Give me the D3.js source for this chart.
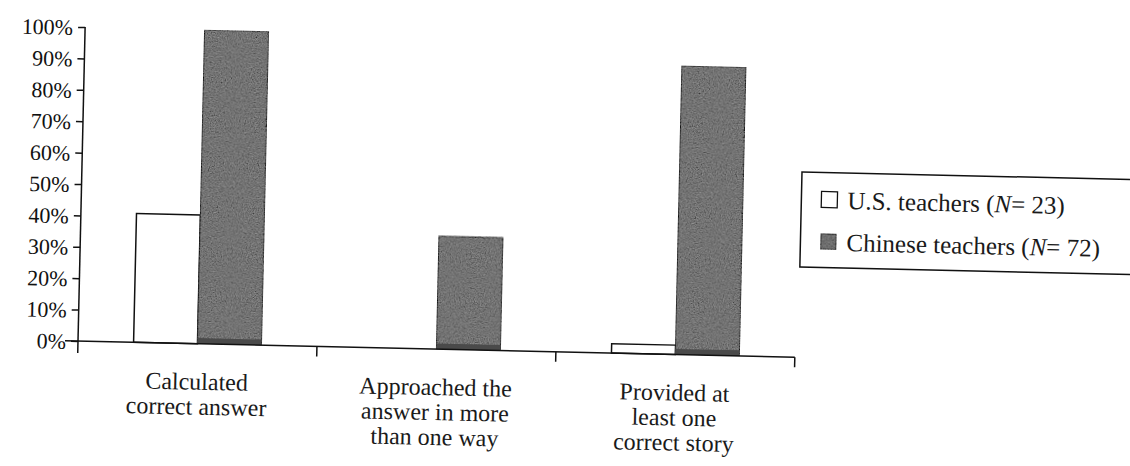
<!DOCTYPE html>
<html>
<head>
<meta charset="utf-8">
<script src="https://cdn.jsdelivr.net/npm/d3@7"></script>
<style>
  body { margin: 0; background: #fff; }
</style>
</head>
<body>
<div id="vis"></div>
<script>
// data
var categories = [
  ['Calculated', 'correct answer'],
  ['Approached the', 'answer in more', 'than one way'],
  ['Provided at', 'least one', 'correct story']
];
var groups = ['us', 'cn'];
var usValues = [41, 0, 3];
var cnValues = [100, 36, 92];
var legendLabels = ['U.S. teachers (', 'Chinese teachers ('];
var legendN = [23, 72];
var yTicks = [0, 10, 20, 30, 40, 50, 60, 70, 80, 90, 100];

var serif = 'Liberation Serif, Times New Roman, DejaVu Serif, serif';

var width = 1130, height = 466;
var margin = { top: 27, left: 78 };
var tilt = 1.3; // the scan is slightly rotated

var svg = d3.select('#vis').append('svg')
  .attr('width', width)
  .attr('height', height)
  .attr('font-family', serif);

// grainy print texture for the grey bars
var defs = svg.append('defs');
var f = defs.append('filter').attr('id', 'grain')
  .attr('x', 0).attr('y', 0).attr('width', 1).attr('height', 1);
f.append('feTurbulence').attr('type', 'fractalNoise')
  .attr('baseFrequency', 0.8).attr('numOctaves', 2).attr('seed', 4).attr('result', 'noise');
f.append('feColorMatrix').attr('in', 'noise').attr('type', 'matrix')
  .attr('values', '0.33 0.33 0.33 0 0  0.33 0.33 0.33 0 0  0.33 0.33 0.33 0 0  0 0 0 0 1')
  .attr('result', 'gray');
f.append('feComposite').attr('in', 'gray').attr('in2', 'SourceGraphic')
  .attr('operator', 'arithmetic')
  .attr('k1', 0).attr('k2', 0.55).attr('k3', 1).attr('k4', -0.27).attr('result', 'mix');
f.append('feComposite').attr('in', 'mix').attr('in2', 'SourceGraphic').attr('operator', 'in');

var innerW = 795 - margin.left;
var innerH = 341 - margin.top;

var g = svg.append('g')
  .attr('transform', 'translate(' + margin.left + ',' + margin.top + ') rotate(' + tilt + ',0,' + innerH + ')');

var x = d3.scaleBand()
  .domain(d3.range(categories.length))
  .range([0, innerW])
  .padding(0);

var x1 = d3.scaleBand()
  .domain(groups)
  .range([0, x.bandwidth()])
  .paddingOuter(0.87)
  .paddingInner(0);

var y = d3.scaleLinear()
  .domain([0, 100])
  .range([innerH, 0]);

var rows = categories.map(function (c, i) {
  return { i: i, us: usValues[i], cn: cnValues[i] };
});

// bars
var bar = g.append('g').selectAll('g')
  .data(rows)
  .enter().append('g')
  .attr('transform', function (d) { return 'translate(' + x(d.i) + ',0)'; });

bar.filter(function (d) { return d.us > 0; })
  .append('rect')
  .attr('x', x1('us'))
  .attr('y', function (d) { return y(d.us); })
  .attr('width', x1.bandwidth())
  .attr('height', function (d) { return y(0) - y(d.us); })
  .attr('fill', '#fff')
  .attr('stroke', '#111')
  .attr('stroke-width', 1.5);

bar.append('rect')
  .attr('x', x1('cn'))
  .attr('y', function (d) { return y(d.cn); })
  .attr('width', x1.bandwidth())
  .attr('height', function (d) { return y(0) - y(d.cn); })
  .attr('fill', '#727272')
  .attr('stroke', '#2a2a2a')
  .attr('stroke-width', 1)
  .attr('filter', 'url(#grain)');

// darker strip where the grey meets the baseline
bar.append('rect')
  .attr('x', x1('cn'))
  .attr('y', y(1.8))
  .attr('width', x1.bandwidth())
  .attr('height', y(0) - y(1.8))
  .attr('fill', '#4a4a4a');

// y axis
var yAxis = g.append('g')
  .call(d3.axisLeft(y).tickValues(yTicks).tickSize(7).tickPadding(5)
    .tickFormat(function (d) { return d + '%'; }));
yAxis.attr('font-family', serif).attr('font-size', 22);
yAxis.select('.domain').remove();
yAxis.append('line')
  .attr('x1', 0).attr('x2', 0)
  .attr('y1', y(100)).attr('y2', y(0) + 12)
  .attr('stroke', '#111').attr('stroke-width', 1.5);
yAxis.selectAll('.tick line').attr('stroke', '#111').attr('stroke-width', 1.5);
yAxis.selectAll('.tick text')
  .attr('fill', '#111')
  .attr('dy', '0.35em');

// x axis: baseline plus ticks at the category boundaries
var xAxis = g.append('g');
xAxis.append('line')
  .attr('x1', -13).attr('x2', innerW)
  .attr('y1', y(0)).attr('y2', y(0))
  .attr('stroke', '#111').attr('stroke-width', 1.5);
var edges = x.domain().map(function (d) { return x(d); }).concat([innerW]).slice(1);
xAxis.selectAll('.xt')
  .data(edges)
  .enter().append('line')
  .attr('class', 'xt')
  .attr('x1', function (d) { return d; }).attr('x2', function (d) { return d; })
  .attr('y1', y(0)).attr('y2', y(0) + 10)
  .attr('stroke', '#111').attr('stroke-width', 1.5);

// category labels
var lab = g.append('g').selectAll('text')
  .data(categories)
  .enter().append('text')
  .attr('text-anchor', 'middle')
  .attr('fill', '#1a1a1a')
  .attr('font-family', serif)
  .attr('font-size', 24)
  .attr('transform', function (d, i) {
    return 'translate(' + (x(i) + x.bandwidth() / 2) + ',' + (y(0) + 46) + ')';
  });
lab.selectAll('tspan')
  .data(function (d) { return d; })
  .enter().append('tspan')
  .attr('x', 0)
  .attr('y', function (d, i) { return i * 25; })
  .text(function (d) { return d; });

// legend
var lg = svg.append('g')
  .attr('transform', 'translate(802,172) rotate(' + tilt + ')');
lg.append('rect')
  .attr('x', 0).attr('y', 0)
  .attr('width', 360).attr('height', 95)
  .attr('fill', '#fff')
  .attr('stroke', '#111')
  .attr('stroke-width', 1.5);

var li = lg.selectAll('.li')
  .data(groups)
  .enter().append('g')
  .attr('class', 'li')
  .attr('transform', function (d, i) { return 'translate(20,' + (19 + i * 42) + ')'; });

li.append('rect')
  .attr('width', 16).attr('height', 16)
  .attr('fill', function (d) { return d === 'us' ? '#fff' : '#6c6c6c'; })
  .attr('stroke', '#111')
  .attr('stroke-width', 1.3)
  .attr('filter', function (d) { return d === 'us' ? null : 'url(#grain)'; });

var lt = li.append('text')
  .attr('x', 26)
  .attr('y', 17)
  .attr('fill', '#1a1a1a')
  .attr('font-family', serif)
  .attr('font-size', 25);
lt.append('tspan').text(function (d, i) { return legendLabels[i]; });
lt.append('tspan').attr('font-style', 'italic').text('N');
lt.append('tspan').text(function (d, i) { return '= ' + legendN[i] + ')'; });
</script>
</body>
</html>
